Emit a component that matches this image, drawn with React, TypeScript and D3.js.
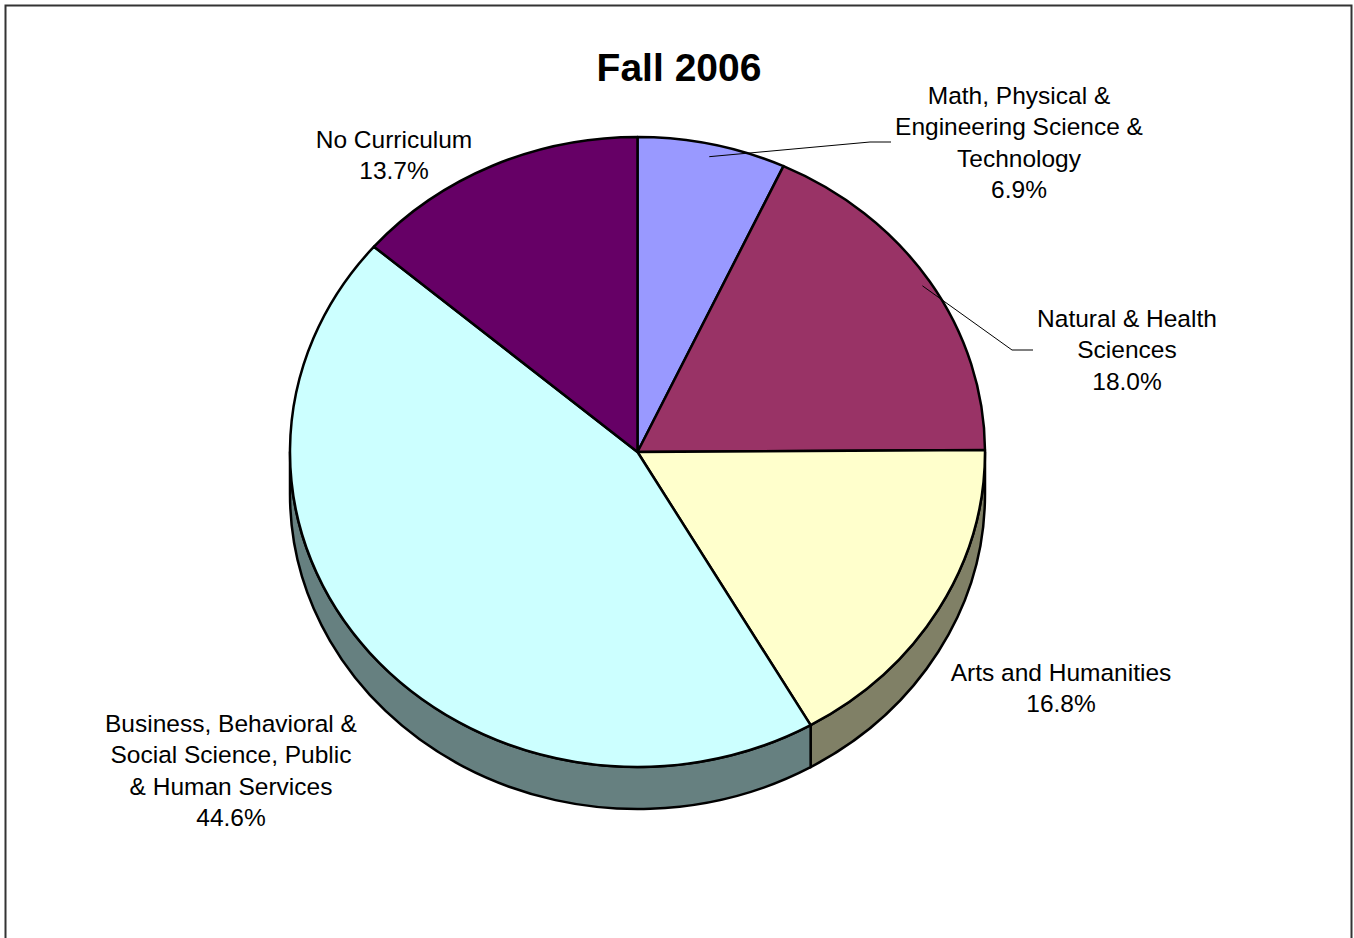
import React from "react";
import { pie, rgb } from "d3";

// slices, clockwise from 12 o'clock
const categories = [
  "Math, Physical & Engineering Science & Technology",
  "Natural & Health Sciences",
  "Arts and Humanities",
  "Business, Behavioral & Social Science, Public & Human Services",
  "No Curriculum",
];
const shares = [6.9, 18.0, 16.8, 44.6, 13.7];
const sliceColors = ["#9999FF", "#993366", "#FFFFCC", "#CCFFFF", "#660066"];

// label text lines (wrapped like the original)
const labelLines = [
  ["Math, Physical &", "Engineering Science &", "Technology"],
  ["Natural & Health", "Sciences"],
  ["Arts and Humanities"],
  ["Business, Behavioral &", "Social Science, Public", "& Human Services"],
  ["No Curriculum"],
];

// where each label sits (centre x, first baseline) and its leader, if any
const labelLayout = [
  { x: 1019, y: 104, leader: { r: 0.96, elbow: [870, 142], end: [891, 142] } },
  { x: 1127, y: 327, leader: { r: 0.975, elbow: [1012, 350], end: [1033, 350] } },
  { x: 1061, y: 681, leader: null },
  { x: 231, y: 732, leader: null },
  { x: 394, y: 148, leader: null },
];

const W = 1354;
const H = 938;
const cx = 637.5;
const cy = 452;
const rx = 347.5;
const ry = 315;
const depth = 42;
const lineH = 31.3;
const font = "'Liberation Sans', Arial, Helvetica, sans-serif";

// compass angle (radians, clockwise from top) -> point on the top ellipse
const pt = (a: number, r = 1, dy = 0): [number, number] => [
  cx + rx * r * Math.sin(a),
  cy - ry * r * Math.cos(a) + dy,
];
const f = (p: [number, number]) => `${p[0].toFixed(2)},${p[1].toFixed(2)}`;

// the rim is the face colour at half brightness, like Excel's 3-D pie
const shade = (c: string) => {
  const k = rgb(c);
  return rgb(k.r * 0.5, k.g * 0.5, k.b * 0.5).formatHex();
};

function topPath(a0: number, a1: number) {
  const large = a1 - a0 > Math.PI ? 1 : 0;
  return `M${cx},${cy}L${f(pt(a0))}A${rx},${ry} 0 ${large} 1 ${f(pt(a1))}Z`;
}

function sidePath(a0: number, a1: number) {
  const large = a1 - a0 > Math.PI ? 1 : 0;
  return (
    `M${f(pt(a0))}A${rx},${ry} 0 ${large} 1 ${f(pt(a1))}` +
    `L${f(pt(a1, 1, depth))}A${rx},${ry} 0 ${large} 0 ${f(pt(a0, 1, depth))}Z`
  );
}

export default function App() {
  const arcs = pie<number>()
    .value((d) => d)
    .sort(null)
    .startAngle(0)
    .endAngle(2 * Math.PI)(shares);

  // front half of the rim is visible: from 3 o'clock to 9 o'clock
  const frontA = Math.PI / 2;
  const frontB = (3 * Math.PI) / 2;
  const sides = arcs
    .map((d, i) => ({
      i,
      s0: Math.max(d.startAngle, frontA),
      s1: Math.min(d.endAngle, frontB),
    }))
    .filter((s) => s.s1 > s.s0);

  return (
    <svg
      width={W}
      height={H}
      style={{ position: "absolute", left: 0, top: 0, background: "#fff" }}
    >
      <rect x={5.5} y={5.5} width={1346} height={H + 20} fill="#fff" stroke="#333" strokeWidth={2} />

      <text x={679} y={81} textAnchor="middle" fontFamily={font} fontWeight="bold" fontSize={39}>
        Fall 2006
      </text>

      <g stroke="#000" strokeWidth={2.5} strokeLinejoin="round">
        {sides.map((s) => (
          <path key={"side" + s.i} d={sidePath(s.s0, s.s1)} fill={shade(sliceColors[s.i])} />
        ))}
        {arcs.map((d, i) => (
          <path key={"top" + i} d={topPath(d.startAngle, d.endAngle)} fill={sliceColors[i]} />
        ))}
      </g>

      {arcs.map((d, i) => {
        const lay = labelLayout[i];
        if (!lay.leader) return null;
        const mid = (d.startAngle + d.endAngle) / 2;
        const p0 = pt(mid, lay.leader.r);
        return (
          <polyline
            key={"lead" + i}
            points={`${f(p0)} ${lay.leader.elbow.join(",")} ${lay.leader.end.join(",")}`}
            fill="none"
            stroke="#000"
            strokeWidth={1}
          />
        );
      })}

      {labelLines.map((lines, i) => {
        const lay = labelLayout[i];
        const all = [...lines, `${shares[i].toFixed(1)}%`];
        return (
          <text
            key={"lab" + i}
            x={lay.x}
            y={lay.y}
            textAnchor="middle"
            fontFamily={font}
            fontSize={24.5}
            fill="#000"
          >
            <title>{categories[i]}</title>
            {all.map((t, j) => (
              <tspan key={j} x={lay.x} y={lay.y + j * lineH}>
                {t}
              </tspan>
            ))}
          </text>
        );
      })}
    </svg>
  );
}
